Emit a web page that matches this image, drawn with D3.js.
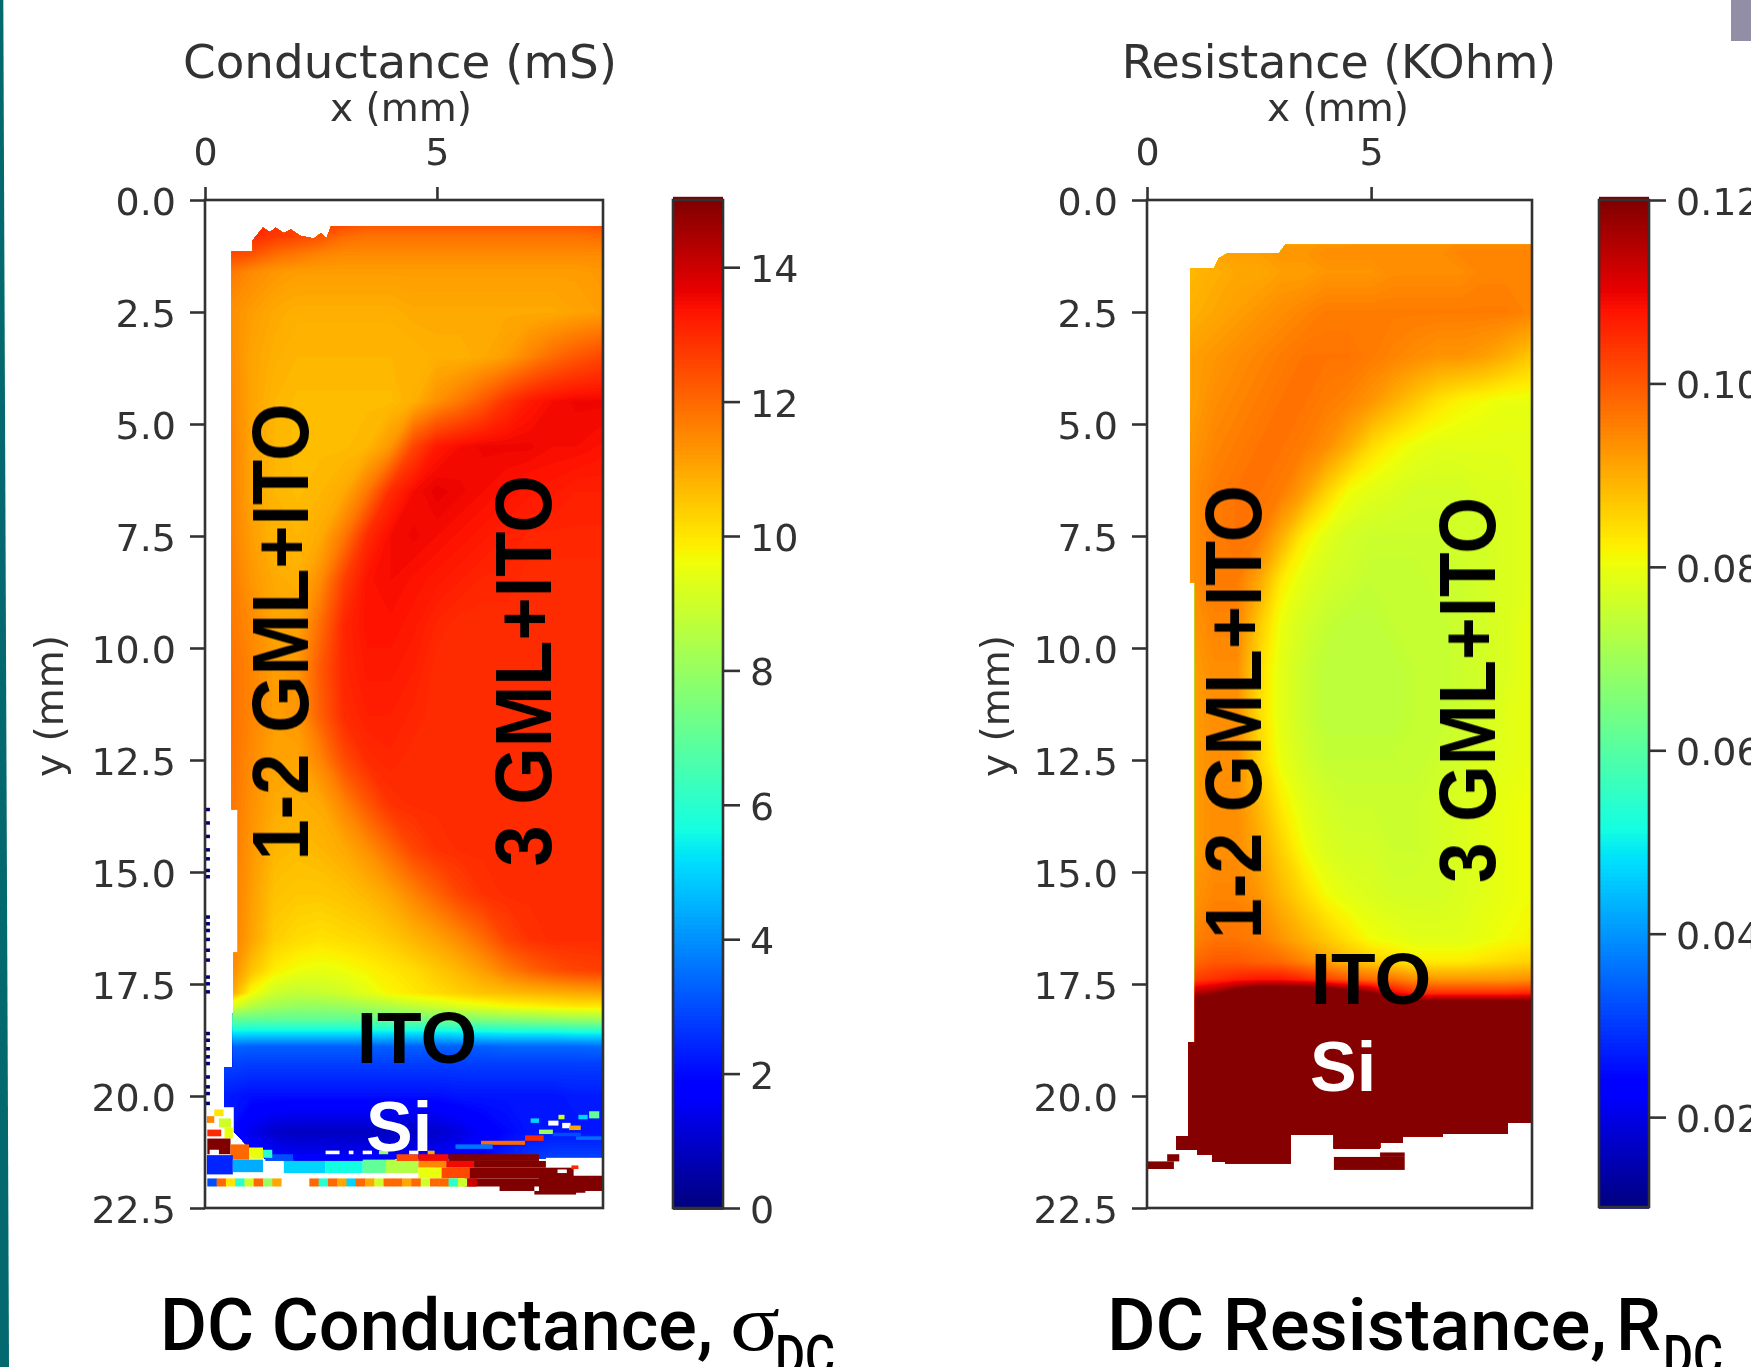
<!DOCTYPE html>
<html><head><meta charset="utf-8">
<script src="https://cdnjs.cloudflare.com/ajax/libs/d3/7.8.5/d3.min.js"></script>
<style>html,body{margin:0;padding:0;background:#fff;overflow:hidden}svg{display:block}</style>
</head><body><svg id="c" width="1751" height="1367"></svg>
<script>
// ---------- tick labels / text ----------
const xTickValues=[0,5];
const yTickValues=[0,2.5,5,7.5,10,12.5,15,17.5,20,22.5];
const sigmaBarTicks=[0,2,4,6,8,10,12,14];
const resBarTicks=[0.02,0.04,0.06,0.08,0.10,0.12];
// ---------- jet colour map anchors ----------
const jetR=[[0,0],[0.35,0],[0.66,1],[0.89,1],[1,0.5]];
const jetG=[[0,0],[0.125,0],[0.375,1],[0.64,1],[0.91,0],[1,0]];
const jetB=[[0,0.5],[0.11,1],[0.34,1],[0.65,0],[1,0]];
// ---------- shared grid columns (mm) ----------
const gridCols=[0.4,1,1.5,2,2.5,3,3.5,4,4.5,5,5.5,6,6.5,7,7.5,8,8.6];
// ---------- conductance (mS) ----------
const sigmaRows=[0.5,0.8,1.2,1.6,2.5,3.5,4.5,5.5,6.5,7.5,8.5,9.5,10.5,11.5,12.5,13.5,14.5,15.5,16.5,17.2,17.7,18,18.3,18.6,18.9,19.3,20,20.8,21.4];
const sigmaGrid=[
[13,13,13,12.8,12.8,12.6,12.4,12.4,12.4,12.4,12.4,12.4,12.4,12.4,12.4,12.4,12.6],
[13,13,12.8,12.6,12.4,12,11.9,11.9,11.9,11.9,11.9,11.9,11.9,11.9,11.9,11.9,12],
[12.6,12.4,12,11.8,11.6,11.5,11.5,11.5,11.5,11.5,11.5,11.5,11.5,11.5,11.5,11.5,11.5],
[11.9,11.5,11.3,11.2,11.2,11.2,11.2,11.2,11.2,11.2,11.2,11.2,11.2,11.2,11.2,11.2,11.3],
[11.5,11.2,11,10.9,10.9,10.9,10.9,10.9,11,11,11,11,11,11,11,11.1,11.2],
[11.6,11.1,10.9,10.8,10.8,10.8,10.8,10.8,10.8,10.9,10.9,11,11.2,11.6,12,12.3,12.6],
[11.7,11.1,10.8,10.7,10.7,10.7,10.7,10.7,10.9,11.4,11.8,12.3,12.9,13.3,13.5,13.6,13.6],
[11.8,11.1,10.8,10.7,10.7,10.7,10.8,11.3,12.6,13.3,13.5,13.6,13.6,13.6,13.5,13.5,13.4],
[11.8,11.1,10.8,10.7,10.8,11,11.8,13,13.5,13.7,13.6,13.5,13.4,13.3,13.3,13.2,13.2],
[11.8,11.2,10.8,10.8,11,11.8,13,13.5,13.6,13.5,13.4,13.3,13.2,13.1,13.1,13.1,13.1],
[11.9,11.3,11,10.9,11.5,12.7,13.4,13.5,13.4,13.3,13.2,13.1,13.1,13,13,13,13],
[11.9,11.5,11.1,11.1,12,13.1,13.4,13.4,13.3,13.1,13,13,13,13,13,13,13],
[12,11.6,11.2,11.3,12.3,13.1,13.3,13.3,13.2,13,13,13,13,13,13,13,13],
[12,11.6,11.2,11.3,12.2,13,13.2,13.2,13.1,13,13,13,13,13,13,13,13],
[12,11.5,11.1,11.1,11.6,12.5,13,13.1,13,13,13,13,13,13,13,13,13],
[12,11.4,11,10.9,11,11.6,12.3,12.9,13,13,13,13,13,13,13,13,13],
[12,11.3,10.8,10.7,10.8,11,11.4,12,12.6,12.9,13,13,13,13,13,13,13],
[12,11.2,10.6,10.5,10.5,10.6,10.8,11.1,11.6,12.1,12.6,12.9,13,13,13,13,13],
[12,11.1,10.4,10.2,10.1,10.2,10.3,10.5,10.8,11.1,11.5,12,12.6,12.9,13,13,13],
[11.9,10.6,9.9,9.6,9.5,9.6,9.8,10,10.2,10.5,10.8,11.2,11.7,12.1,12.4,12.6,12.7],
[11.6,9.7,9,8.8,8.9,9.1,9.4,9.8,10,10.2,10.4,10.6,10.7,10.8,10.9,11,11.1],
[9.6,8.6,8.2,8,8,8.1,8.3,8.5,8.8,9,9.3,9.5,9.7,9.8,9.9,10,10],
[7.2,7,7,7,7,7,7.1,7.2,7.3,7.4,7.5,7.6,7.7,7.8,7.9,8,8.1],
[5.3,5.2,5.2,5.2,5.2,5.2,5.2,5.2,5.2,5.2,5.3,5.3,5.4,5.4,5.4,5.5,5.5],
[3.4,3.3,3.3,3.3,3.3,3.3,3.3,3.3,3.3,3.3,3.3,3.3,3.4,3.4,3.4,3.4,3.5],
[2.9,2.8,2.8,2.8,2.8,2.8,2.8,2.8,2.8,2.8,2.8,2.8,2.8,2.8,2.8,2.8,2.8],
[2.3,2.1,2.1,2.1,2.1,2.1,2.1,2.1,2.1,2.1,2.2,2.2,2.2,2.2,2.2,2.3,2.3],
[2.2,1.4,1,0.9,0.9,0.9,0.9,0.9,0.9,1,1.3,1.7,2,2.2,2.2,2.2,2.2],
[3,2.4,1.8,1.6,1.6,1.6,1.7,1.7,1.7,1.7,1.8,2,2.4,2.7,2.9,2.9,2.9]];
// outline of the measured area [x mm, y mm]
const sigmaMask=[[0.575,1.15],[1.03,1.15],[1.03,0.9],[1.25,0.62],[1.4,0.72],[1.52,0.62],[1.7,0.74],[1.85,0.66],[2.05,0.8],[2.35,0.86],[2.5,0.74],[2.62,0.86],[2.72,0.58],[8.6,0.58],[8.6,21.4],[1.3,21.4],[0.95,21.15],[0.62,20.8],[0.41,20.2],[0.41,19.35],[0.6,19.35],[0.6,18.4],[0.62,16.8],[0.71,16.8],[0.71,13.6],[0.575,13.6]];
// detailed patches below the silicon region [x0,x1,y0,y1,value] (null = no data)
const sigmaPatches=[
[1.3,1.9,21.3,21.48,3],[1.9,4.1,21.3,21.45,1.8],
[0.04,0.62,20.25,20.95,null],[0.04,0.2,20.45,20.6,11.5],[0.2,0.4,20.3,20.45,10],[0.3,0.56,20.5,20.7,9],[0.05,0.35,20.75,20.9,13],[0.42,0.6,20.7,20.95,9.5],
[0.05,0.55,20.95,21.3,15],[0.1,0.3,21.2,21.32,null],[0.55,0.95,21.08,21.42,12],[0.95,1.25,21.15,21.4,9.5],[1.25,1.45,21.2,21.38,6],
[0.04,0.6,21.32,21.75,2.4],[0.6,1.25,21.42,21.7,4.4],[1.25,1.7,21.45,21.85,null],[1.7,2.6,21.45,21.72,5],[2.6,3.4,21.45,21.72,5.6],[3.4,3.9,21.42,21.72,7],[3.9,4.6,21.42,21.72,8.5],
[4.13,4.6,21.3,21.45,12.5],[4.6,5.25,21.3,21.45,13.5],[5.25,7.2,21.3,21.45,15],
[4.6,5.2,21.45,21.6,11.5],[5.2,5.8,21.45,21.6,13.5],[5.8,7.35,21.45,21.6,15],[7.35,8.6,21.38,21.6,null],
[4.6,5.1,21.6,21.84,9.5],[5.1,5.7,21.6,21.84,12.5],[5.7,7.2,21.6,21.84,14.9],[7.2,7.95,21.6,21.84,15],[7.95,8.6,21.6,21.78,null],[7.6,7.8,21.64,21.72,null],[7.9,8.05,21.55,21.63,13],
[5.6,7.2,21.84,22.02,15],[7.2,8.6,21.78,22.12,15],[5.1,5.6,21.84,22.02,9],[6.35,7.1,22.0,22.12,15],[7.1,8.2,22.12,22.2,15],[8.0,8.5,22.16,22.22,null],
[5.95,6.9,21.0,21.09,12],[6.9,7.3,20.88,21.0,13],[7.2,7.5,20.75,20.85,8],[7.4,7.62,20.55,20.66,null],[7.7,7.88,20.6,20.72,null],[7.85,8.1,20.66,20.76,11],[8.05,8.25,20.42,20.52,5],[8.28,8.5,20.34,20.5,7],[7.02,7.2,20.5,20.6,5],[7.62,7.75,20.42,20.52,9],
[8.0,8.55,20.9,20.98,3.5],[7.5,8.1,20.82,20.9,3],[5.4,6.2,21.08,21.18,3.6],
[2.6,2.9,21.22,21.3,null],[3.1,3.2,21.22,21.3,null],[3.4,3.6,21.22,21.3,null],[3.75,3.95,21.22,21.3,8],[4.4,4.6,21.22,21.3,null],[4.8,4.95,21.22,21.3,11]];
// speckled row near the bottom edge, 0.2 mm wide cells from x=0.05, y 21.84..22.02
const sigmaSpeckle=[3,12,10,6,9,12,8,11,null,null,null,12,6,12,11,5,12,11,9,12,12,11,12,9,12,12,6,9,14];
// dots on the left axis (y mm, from the picture)
const sigmaAxisDots=[13.6,13.9,14.2,14.5,14.7,14.96,15.1,16,16.15,16.3,16.5,16.74,16.96,17.34,17.49,17.67,18.6,18.75,18.94,19.12,19.27,19.57,19.79,19.94,20.16];
// ---------- resistance (KOhm) ----------
const resRows=[0.8,1.2,1.6,2.5,3.5,4.5,5.5,6.5,7.5,8.5,9.5,10.5,11.5,12.5,13.5,14.5,15.5,16.5,17,17.4,17.7,18,21.8];
const resGrid=[
[.088,.09,.09,.09,.091,.092,.093,.093,.093,.094,.094,.094,.094,.094,.094,.094,.094],
[.088,.09,.091,.092,.092,.093,.093,.094,.094,.094,.094,.094,.094,.095,.095,.095,.095],
[.087,.089,.09,.091,.091,.092,.092,.093,.093,.093,.094,.094,.094,.094,.095,.095,.095],
[.088,.09,.091,.092,.093,.094,.095,.096,.096,.096,.096,.096,.096,.096,.096,.096,.095],
[.089,.092,.093,.094,.095,.096,.097,.097,.097,.096,.095,.094,.093,.093,.092,.09,.087],
[.089,.092,.094,.095,.096,.097,.097,.096,.095,.093,.09,.087,.084,.082,.081,.08,.08],
[.09,.093,.095,.096,.097,.097,.096,.094,.09,.085,.082,.08,.079,.079,.079,.079,.079],
[.09,.094,.096,.097,.097,.096,.092,.086,.081,.079,.078,.077,.077,.077,.078,.078,.079],
[.09,.094,.096,.097,.096,.09,.083,.079,.077,.076,.076,.076,.076,.077,.077,.078,.079],
[.089,.094,.096,.096,.091,.083,.079,.077,.076,.075,.075,.075,.076,.076,.077,.078,.079],
[.088,.093,.095,.095,.087,.08,.077,.075,.074,.074,.075,.075,.075,.076,.077,.078,.08],
[.088,.092,.094,.094,.085,.079,.076,.074,.074,.074,.074,.075,.075,.076,.077,.078,.08],
[.088,.092,.094,.094,.085,.079,.076,.074,.074,.074,.074,.075,.075,.076,.077,.079,.08],
[.088,.092,.094,.094,.086,.08,.077,.075,.075,.075,.075,.075,.076,.077,.078,.079,.08],
[.088,.092,.094,.094,.089,.083,.079,.077,.076,.076,.076,.076,.077,.078,.079,.08,.081],
[.089,.092,.094,.094,.091,.086,.081,.078,.077,.077,.076,.076,.077,.078,.079,.08,.081],
[.09,.093,.095,.095,.093,.089,.085,.081,.079,.078,.077,.077,.077,.078,.079,.08,.081],
[.092,.095,.097,.097,.096,.093,.09,.087,.084,.081,.08,.079,.079,.079,.08,.081,.082],
[.095,.098,.1,.1,.099,.098,.095,.092,.089,.087,.085,.083,.083,.083,.084,.085,.086],
[.1,.103,.105,.107,.108,.108,.106,.103,.1,.098,.097,.094,.093,.093,.093,.093,.094],
[.11,.115,.118,.125,.13,.13,.13,.13,.125,.12,.11,.105,.105,.105,.105,.105,.106],
[.13,.13,.13,.13,.13,.13,.13,.13,.13,.13,.13,.13,.13,.13,.13,.13,.13],
[.13,.13,.13,.13,.13,.13,.13,.13,.13,.13,.13,.13,.13,.13,.13,.13,.13]];
const resMask=[[0.96,1.52],[1.5,1.52],[1.6,1.3],[1.8,1.19],[2.95,1.19],[3.08,1.0],[8.6,1.0],[8.6,20.6],[8.05,20.6],[8.05,20.85],[6.6,20.85],[6.6,20.9],[5.7,20.9],[5.7,21.05],[5.2,21.05],[5.2,21.17],[4.17,21.17],[4.17,20.87],[3.2,20.87],[3.2,21.5],[1.75,21.5],[1.75,21.47],[1.45,21.47],[1.45,21.3],[1.12,21.3],[1.12,21.2],[0.65,21.2],[0.65,20.9],[0.93,20.9],[0.93,18.8],[1.07,18.8],[1.07,8.53],[0.96,8.53]];
const resPatches=[[4.17,5.75,21.36,21.65,.13],[5.2,5.75,21.26,21.36,.13],[0,0.6,21.46,21.63,.13],[0.45,0.72,21.3,21.46,.13]];
// ---------- helpers ----------
const svg=d3.select('#c');
const defs=svg.append('defs');
const soft=defs.append('filter').attr('id','soft').attr('x','-5%').attr('y','-5%').attr('width','110%').attr('height','110%');
soft.append('feGaussianBlur').attr('stdDeviation',0.7);
const chan=a=>d3.scaleLinear().domain(a.map(d=>d[0])).range(a.map(d=>d[1])).clamp(true);
const cr=chan(jetR),cg=chan(jetG),cb=chan(jetB);
const jet=t=>d3.rgb(cr(t)*255,cg(t)*255,cb(t)*255).formatRgb();
const INK='#333';

// ---------- page decoration ----------
svg.append('path').attr('d','M0,0H3.3L9,1367H0Z').attr('fill','#03696f');
svg.append('rect').attr('x',1731).attr('y',0).attr('width',20).attr('height',41).attr('fill','#918ea5');

function panel(o){
  const x=d3.scaleLinear().domain([0,o.xMax]).range([o.left,o.right]);
  const y=d3.scaleLinear().domain([0,22.5]).range([200,1208]);
  const norm=d3.scaleLinear().domain(o.vDomain).range([0,1]);
  const color=v=>jet(norm(v));
  const root=svg.append('g');
  const clipId='clip'+o.id, axId='ax'+o.id;
  defs.append('clipPath').attr('id',clipId).append('path')
    .attr('d',d3.line().x(d=>x(d[0])).y(d=>y(d[1])).curve(d3.curveLinear)(o.mask)+'Z');
  defs.append('clipPath').attr('id',axId).append('rect').attr('x',o.left).attr('y',200).attr('width',o.right-o.left).attr('height',1008);
  const outer=root.append('g').attr('clip-path',`url(#${axId})`);
  const hm=outer.append('g').attr('clip-path',`url(#${clipId})`);
  const nx=gridCols.length, ny=o.rows.length;
  const sx=d3.scaleLinear().domain(d3.range(nx).map(i=>i+.5)).range(gridCols.map(d=>x(d)));
  const sy=d3.scaleLinear().domain(d3.range(ny).map(i=>i+.5)).range(o.rows.map(d=>y(d)));
  const path=d3.geoPath(d3.geoTransform({point(a,b){this.stream.point(sx(a),sy(b));}}));
  const levels=d3.range(o.vDomain[0],o.vDomain[1],(o.vDomain[1]-o.vDomain[0])/200);
  const cont=d3.contours().size([nx,ny]).thresholds(levels)(o.grid.flat());
  hm.append('rect').attr('x',o.left).attr('y',200).attr('width',o.right-o.left).attr('height',1008).attr('fill',color(levels[0]));
  hm.selectAll('path').data(cont).join('path').attr('d',d=>path(d)).attr('fill',d=>color(d.value));
  outer.selectAll('rect.p').data(o.patches).join('rect').attr('class','p')
    .attr('x',d=>x(d[0])).attr('width',d=>x(d[1])-x(d[0]))
    .attr('y',d=>y(d[2])).attr('height',d=>y(d[3])-y(d[2]))
    .attr('fill',d=>d[4]===null?'#fff':color(d[4]));
  if(o.speckle) outer.selectAll('rect.s').data(o.speckle).join('rect').attr('class','s')
    .attr('x',(d,i)=>x(0.05+i*0.2)).attr('width',x(0.2)-x(0)+0.5)
    .attr('y',y(21.84)).attr('height',y(22.02)-y(21.84))
    .attr('fill',d=>d===null?'#fff':color(d));
  if(o.dots) outer.selectAll('rect.d').data(o.dots).join('rect').attr('class','d')
    .attr('x',x(0.02)).attr('width',4).attr('y',d=>y(d)-1.5).attr('height',3.5).attr('fill','#00007f');

  const axG=root.append('g').attr('filter','url(#soft)');
  axG.append('rect').attr('x',o.left).attr('y',200).attr('width',o.right-o.left).attr('height',1008)
    .attr('fill','none').attr('stroke',INK).attr('stroke-width',2.6);
  const ax=axG.append('g').attr('transform','translate(0,200)')
    .call(d3.axisTop(x).tickValues(xTickValues).tickFormat(d3.format('d')).tickSize(13).tickPadding(22));
  const ay=axG.append('g').attr('transform',`translate(${o.left},0)`)
    .call(d3.axisLeft(y).tickValues(yTickValues).tickFormat(d3.format('.1f')).tickSize(15).tickPadding(14));
  [ax,ay].forEach(g=>{g.select('.domain').remove();g.selectAll('line').attr('stroke',INK).attr('stroke-width',2.6);
    g.selectAll('text').attr('font-family','DejaVu Sans').attr('font-size',38).attr('fill',INK);});
  ay.selectAll('text').attr('dy','.38em');
  const lab=(t,px,py,size,rot)=>axG.append('text').text(t).attr('text-anchor','middle')
    .attr('transform',`translate(${px},${py})`+(rot?' rotate(-90)':'')).attr('font-family','DejaVu Sans').attr('font-size',size).attr('fill',INK);
  lab(o.title,o.titleX,78,o.titleSize);
  lab('x (mm)',o.xLabelX,121,39);
  lab('y (mm)',o.yLabelX,706,39,true);

  const bar=d3.scaleLinear().domain(o.vDomain).range([o.vBottom,200]);
  const steps=d3.range(0,256).map(i=>o.vDomain[0]+(o.vDomain[1]-o.vDomain[0])*i/255);
  root.append('g').selectAll('rect').data(steps).join('rect')
    .attr('x',o.barLeft).attr('width',o.barRight-o.barLeft)
    .attr('y',d=>bar(d)-3.2).attr('height',5).attr('fill',color);
  const barG=root.append('g').attr('filter','url(#soft)');
  barG.append('rect').attr('x',o.barLeft).attr('y',200).attr('width',o.barRight-o.barLeft).attr('height',o.vBottom-200)
    .attr('fill','none').attr('stroke',INK).attr('stroke-width',2.6);
  const ab=barG.append('g').attr('transform',`translate(${o.barRight},0)`)
    .call(d3.axisRight(bar).tickValues(o.barTicks).tickFormat(d3.format(o.barFmt)).tickSize(17).tickPadding(10));
  ab.select('.domain').remove();
  ab.selectAll('line').attr('stroke',INK).attr('stroke-width',2.6);
  ab.selectAll('text').attr('font-family','DejaVu Sans').attr('font-size',38).attr('fill',INK).attr('dy','.38em');

  const ann=root.append('g').attr('font-family','Liberation Sans').attr('font-weight','bold').attr('text-anchor','middle');
  o.notes.forEach(n=>{
    ann.append('text').text(n.t).attr('fill',n.c||'#000').attr('font-size',n.r?n.s*1.08:n.s)
      .attr('transform',`translate(${n.x},${n.y})`+(n.r?` rotate(-90) scale(${1/1.08},1)`:''))
      .attr('filter','url(#soft)');
  });
}

panel({id:'a',left:205,right:603,xMax:8.58,rows:sigmaRows,grid:sigmaGrid,mask:sigmaMask,patches:sigmaPatches,speckle:sigmaSpeckle,dots:sigmaAxisDots,
  vDomain:[0,15],vBottom:1208,barLeft:673,barRight:723,barTicks:sigmaBarTicks,barFmt:'d',
  title:'Conductance (mS)',titleX:400,titleSize:46.8,xLabelX:401,yLabelX:63,
  notes:[{t:'1-2 GML+ITO',x:308,y:632,s:74,r:1},{t:'3 GML+ITO',x:551,y:671,s:74,r:1},{t:'ITO',x:417,y:1063,s:73},{t:'Si',x:399,y:1151,s:70,c:'#fff'}]});
panel({id:'b',left:1147,right:1532,xMax:8.59,rows:resRows,grid:resGrid,mask:resMask,patches:resPatches,
  vDomain:[0.0102,0.12],vBottom:1207,barLeft:1599,barRight:1649,barTicks:resBarTicks,barFmt:'.2f',
  title:'Resistance (KOhm)',titleX:1339,titleSize:45.8,xLabelX:1338,yLabelX:1009,
  notes:[{t:'1-2 GML+ITO',x:1261,y:712,s:73.5,r:1},{t:'3 GML+ITO',x:1495,y:690,s:73,r:1},{t:'ITO',x:1371,y:1004,s:73},{t:'Si',x:1343,y:1091,s:70,c:'#fff'}]});

function caption(main,x0,w,sym,symFont,symX,symSize,symW,subX){
  const g=svg.append('g').attr('fill','#000');
  g.append('text').text(main).attr('x',x0).attr('y',1350).attr('font-family','Roboto').attr('font-weight',500).attr('font-size',72)
    .attr('textLength',w).attr('lengthAdjust','spacingAndGlyphs');
  g.append('text').text(sym).attr('x',symX).attr('y',1350).attr('font-family',symFont).attr('font-weight',symFont==='Roboto'?500:400).attr('font-size',symSize)
    .attr('textLength',symW).attr('lengthAdjust','spacingAndGlyphs');
  g.append('text').text('DC').attr('x',subX).attr('y',1375).attr('font-family','Roboto').attr('font-weight',500).attr('font-size',56)
    .attr('textLength',60).attr('lengthAdjust','spacingAndGlyphs');
}
caption('DC Conductance,',160,553,'σ','Liberation Serif',730,80,50,775);
caption('DC Resistance,',1107,500,'R','Roboto',1616,72,45,1663);
</script></body></html>
